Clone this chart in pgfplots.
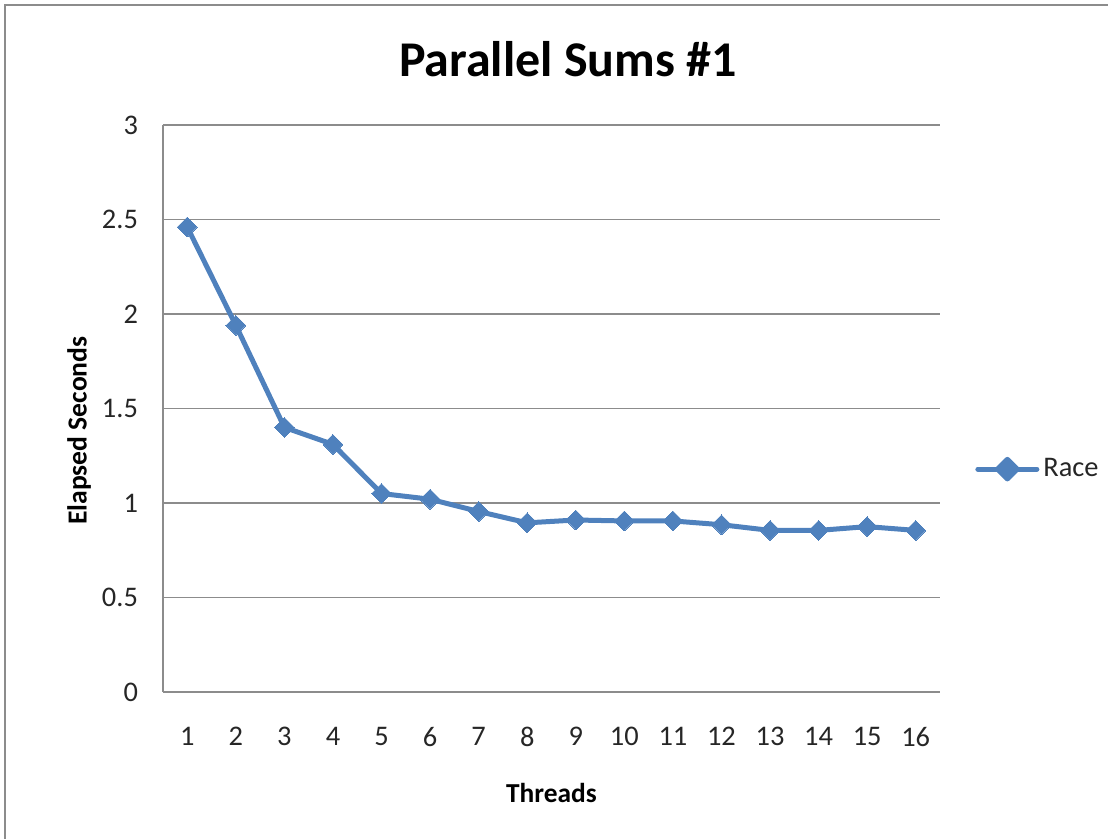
\documentclass[border=0pt]{standalone}
\usepackage{pgfplots}
\pgfplotsset{compat=1.18}
\usepackage{fontspec}
\setmainfont{Carlito}
\definecolor{xlblue}{HTML}{4F81BD}
\definecolor{gridgray}{HTML}{8C8C8C}
\begin{document}
\begin{tikzpicture}
\useasboundingbox (0,0) rectangle (554pt,419.5pt);
\draw[color=gridgray, line width=1.2pt] (2.5pt,-10pt) rectangle (570pt,417pt);
\begin{axis}[
  at={(81.5pt,73.5pt)}, anchor=south west,
  scale only axis, width=388.5pt, height=283.5pt,
  xmin=0.5, xmax=16.5, ymin=0, ymax=3,
  xtick={1,...,16}, ytick={0,0.5,...,3},
  yticklabels={0,0.5,1,1.5,2,2.5,3},
  axis x line*=bottom, axis y line*=left,
  axis line style={draw=gridgray, line width=0.6pt},
  major tick length=0pt,
  ymajorgrids, grid style={draw=gridgray, line width=0.6pt},
  /pgf/number format/assume math mode=true,
  tick label style={font=\fontsize{14.2}{17}\selectfont, text=black!85},
  xticklabel style={yshift=-14pt},
  yticklabel style={xshift=-9pt},
  title={Parallel Sums \#1},
  title style={font=\fontsize{25}{30}\selectfont\bfseries, at={(0.521,1.095)}, anchor=center},
  xlabel={Threads},
  xlabel style={font=\fontsize{13.7}{16}\selectfont\bfseries, at={(axis description cs:0.5,-0.178)}, anchor=center},
  ylabel={Elapsed Seconds},
  ylabel style={font=\fontsize{13.8}{16}\selectfont\bfseries, at={(axis description cs:-0.108,0.461)}, anchor=center, rotate=0},
  legend style={draw=none, fill=none, at={(1.045,0.393)}, anchor=west, font=\fontsize{14.2}{17}\selectfont, text=black!85, inner sep=0pt},
  legend cell align=left,
  legend image code/.code={
    \draw[xlblue, line width=2.5pt, line cap=round] (0pt,0pt) -- (29.5pt,0pt);
    \fill[xlblue] (14.75pt,0pt) ++(0,4.9pt) -- ++(4.9pt,-4.9pt) -- ++(-4.9pt,-4.9pt) -- ++(-4.9pt,4.9pt) -- cycle;
  },
]
\addplot[color=xlblue, line width=2.5pt, line join=round, mark=square*, mark size=3.5pt, mark options={rotate=45, solid, fill=xlblue, draw=xlblue, line width=0pt}]
coordinates {
(1,2.46) (2,1.94) (3,1.40) (4,1.31) (5,1.05) (6,1.02) (7,0.955) (8,0.895)
(9,0.91) (10,0.905) (11,0.905) (12,0.885) (13,0.855) (14,0.855) (15,0.875) (16,0.855)
};
\addlegendentry{Race}
\end{axis}
\end{tikzpicture}
\end{document}
